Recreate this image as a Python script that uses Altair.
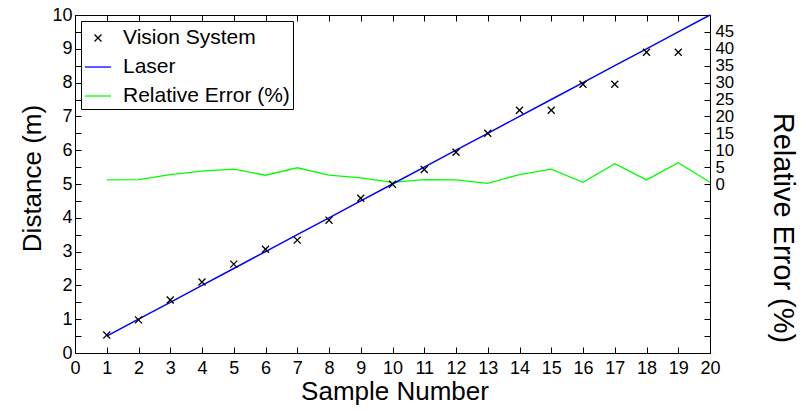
import altair as alt
import pandas as pd

# ---- data ----
samples = [1, 2, 3, 4, 5, 6, 7, 8, 9, 10, 11, 12, 13, 14, 15, 16, 17, 18, 19, 20]
vision_samples = [1, 2, 3, 4, 5, 6, 7, 8, 9, 10, 11, 12, 13, 14, 15, 16, 17, 18, 19]
vision = [0.53, 0.98, 1.57, 2.10, 2.63, 3.07, 3.34, 3.93, 4.58, 4.99,
          5.43, 5.94, 6.50, 7.18, 7.18, 7.95, 7.95, 8.90, 8.90]
laser = [0.5, 1.0, 1.5, 2.0, 2.5, 3.0, 3.5, 4.0, 4.5, 5.0,
         5.5, 6.0, 6.5, 7.0, 7.5, 8.0, 8.5, 9.0, 9.5, 10.0]
rel_error = [1.2, 1.3, 2.8, 3.8, 4.4, 2.6, 4.8, 2.6, 1.8, 0.5,
             1.3, 1.2, 0.2, 2.8, 4.4, 0.5, 6.0, 1.2, 6.3, 0.5]

series_names = ["Vision System", "Laser", "Relative Error (%)"]
series_colors = ["#000000", "#0000ff", "#00ff00"]

x_ticks = [0, 1, 2, 3, 4, 5, 6, 7, 8, 9, 10, 11, 12, 13, 14, 15, 16, 17, 18, 19, 20]
left_ticks = [0, 0.5, 1, 1.5, 2, 2.5, 3, 3.5, 4, 4.5, 5, 5.5, 6, 6.5, 7, 7.5,
              8, 8.5, 9, 9.5, 10]
right_ticks = [-50, -45, -40, -35, -30, -25, -20, -15, -10, -5, 0,
               5, 10, 15, 20, 25, 30, 35, 40, 45, 50]

vis_df = pd.DataFrame({"sample": vision_samples, "value": vision, "series": series_names[0]})
laser_df = pd.DataFrame({"sample": samples, "value": laser, "series": series_names[1]})
err_df = pd.DataFrame({"sample": samples, "value": rel_error, "series": series_names[2]})

FONT = "Liberation Sans"
cross = "M-0.27,-0.27L0.27,0.27M-0.27,0.27L0.27,-0.27"

x_scale = alt.Scale(domain=[0, 20], nice=False, zero=False)
left_scale = alt.Scale(domain=[0, 10], nice=False, zero=False)
right_scale = alt.Scale(domain=[-50, 50], nice=False, zero=False)
color_scale = alt.Scale(domain=series_names, range=series_colors)
shape_scale = alt.Scale(domain=series_names, range=[cross, "stroke", "stroke"])

legend = alt.Legend(
    orient="none", legendX=6, legendY=6, title=None,
    strokeColor="black", fillColor="white", cornerRadius=0, padding=3,
    symbolSize=676, symbolStrokeWidth=1.3, symbolFillColor="transparent",
    rowPadding=5, labelOffset=11, labelFont=FONT, labelFontSize=21,
    labelColor="black", labelLimit=400,
)

bottom_axis = alt.Axis(
    orient="bottom", values=x_ticks, title="Sample Number", offset=-6,
    tickSize=6, domain=False, labelPadding=6, labelFlush=False,
    labelOverlap=False, titleX=319.5, titleY=52, titleBaseline="alphabetic",
)
top_axis = alt.Axis(
    orient="top", values=x_ticks, title=None, labels=False, offset=-6,
    tickSize=6, domain=False,
)
left_axis = alt.Axis(
    orient="left", values=left_ticks, title="Distance (m)", offset=-6,
    tickSize=6, domain=False, labelPadding=3, labelOverlap=False,
    labelFlush=False,
    labelExpr="datum.value % 1 === 0 ? format(datum.value, 'd') : ''",
    titleX=-41, titleY=163, titleBaseline="alphabetic", titleAngle=270,
)
right_axis = alt.Axis(
    orient="right", values=right_ticks, title="Relative Error (%)", offset=-6,
    tickSize=6, domain=False, labelPadding=5, labelOverlap=False,
    labelFlush=False, labelFontSize=16.8,
    labelExpr="datum.value >= 0 && datum.value <= 45 ? format(datum.value, 'd') : ''",
    titleX=69, titleY=212.5, titleBaseline="alphabetic", titleAngle=90,
    titleFontSize=29,
)

points = alt.Chart(vis_df).mark_point(filled=False, size=676, strokeWidth=1.3, opacity=1).encode(
    x=alt.X("sample:Q", scale=x_scale, axis=bottom_axis),
    y=alt.Y("value:Q", scale=left_scale, axis=left_axis),
    color=alt.Color("series:N", scale=color_scale, legend=legend),
    shape=alt.Shape("series:N", scale=shape_scale, legend=legend),
)

laser_line = alt.Chart(laser_df).mark_line(strokeWidth=1.5).encode(
    x=alt.X("sample:Q", scale=x_scale, axis=top_axis),
    y=alt.Y("value:Q", scale=left_scale, axis=None),
    color=alt.Color("series:N", scale=color_scale, legend=legend),
)

err_line = alt.Chart(err_df).mark_line(strokeWidth=1.3).encode(
    x=alt.X("sample:Q", scale=x_scale, axis=None),
    y=alt.Y("value:Q", scale=right_scale, axis=right_axis),
    color=alt.Color("series:N", scale=color_scale, legend=legend),
)

chart = (
    alt.layer(err_line, laser_line, points)
    .resolve_scale(y="independent")
    .resolve_axis(x="independent", y="independent")
    .properties(
        width=635, height=338,
        autosize=alt.AutoSizeParams(type="none"),
        padding={"left": 75, "top": 15, "right": 91, "bottom": 58},
        background="white",
    )
    .configure_view(stroke="black", strokeWidth=1)
    .configure_axis(
        grid=False, labelFont=FONT, labelFontSize=18, labelColor="black",
        titleFont=FONT, titleFontSize=26, titleFontWeight="normal",
        titleColor="black", tickColor="black", tickWidth=1,
    )
)

chart.save("out.html", embed_options={"renderer": "svg", "actions": False})
